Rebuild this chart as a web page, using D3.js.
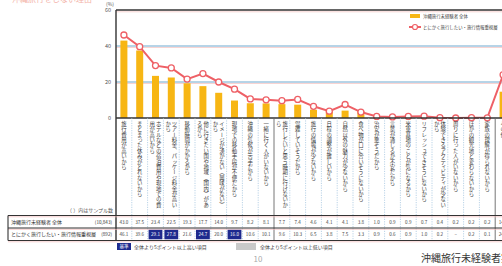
<!DOCTYPE html>
<html><head><meta charset="utf-8">
<script src="https://cdn.jsdelivr.net/npm/d3@7"></script>
<style>
body{margin:0;background:#fff;}
svg text{font-family:"Noto Sans CJK JP","Noto Sans",sans-serif;}
</style></head>
<body><svg id="chart" width="502" height="266"></svg>
<script>
// reasons (columns), left to right
const categories = [
  "旅行費用が高いから",
  "まとまった休みがとれないから",
  "ホテルなどの宿泊費用や現地での費用が高いから",
  "ツアー料金、パッケージ料金が高いから",
  "移動時間がかかるから",
  "他に行きたい国や地域（国内）があるから",
  "イメージが湧かない（興味がない）から",
  "現地での移動手段が不便だから",
  "沖縄の気候が苦手だから",
  "一緒に行く人がいないから",
  "旅行したいと思う時期に行けないから",
  "混雑していそうだから",
  "旅行の情報が少ないから",
  "日程の調整が難しいから",
  "自然以外の魅力が少ないから",
  "食べ物が口に合いそうにないから",
  "治安が悪そうだから",
  "言葉が通じるか不安だから",
  "米軍基地のことが気になるから",
  "リフレッシュできそうにないから",
  "体験できるアクティビティが少ないから",
  "周りに行った人がいないから",
  "ほかの観光地と変わらないから",
  "家族の理解が得られないから",
  "その他"
];
const allValues  = [43.0, 37.5, 23.4, 22.5, 19.3, 17.7, 14.0, 9.7, 8.2, 8.1, 7.7, 7.4, 4.6, 4.1, 4.1, 3.8, 1.0, 0.9, 0.9, 0.7, 0.4, 0.2, 0.2, 0.2, 14.6];
const keenValues = [46.1, 39.6, 29.1, 27.8, 21.6, 24.7, 20.0, 16.0, 10.6, 10.1, 9.6, 10.3, 6.5, 3.8, 7.5, 3.3, 0.9, 0.6, 0.9, 1.0, 0.2, null, 0.2, 0.1, 24.0];
const highIdx = [2, 3, 5, 7];   // cells shaded navy in the table
const seriesNames = ["沖縄旅行未経験者 全体", "とにかく旅行したい・旅行情報重視層"];
const sampleSizes = ["(10,843)", "(892)"];
const yTicks = [0, 20, 40, 60];

const svg = d3.select("#chart");
svg.append("rect").attr("width", 502).attr("height", 266).attr("fill", "#fff");

const colW = 15.8;
const x = d3.scaleBand().domain(categories).range([116, 116 + colW * categories.length]);
const y = d3.scaleLinear().domain([0, 60]).range([118, 10]);
const barW = 7;
const cx = d => x(d) + x.bandwidth() / 2;

// faint title cut at the top
svg.append("text").attr("x", 12).attr("y", 2.2).attr("font-size", 8)
   .attr("fill", "#f3b2a8").text("沖縄旅行をしない理由");

// gridlines
const grid = svg.append("g");
[20, 40].forEach(t => {
  grid.append("line").attr("x1", 116).attr("x2", 502).attr("y1", y(t) + 1.5).attr("y2", y(t) + 1.5)
      .attr("stroke", "#f6c9c6").attr("stroke-width", 0.8);
  grid.append("line").attr("x1", 116).attr("x2", 502).attr("y1", y(t)).attr("y2", y(t))
      .attr("stroke", "#6fa8cf").attr("stroke-width", 1);
});
grid.append("line").attr("x1", 116).attr("x2", 502).attr("y1", y(60) + 1.8).attr("y2", y(60) + 1.8)
    .attr("stroke", "#f6c9c6").attr("stroke-width", 0.8);
grid.append("line").attr("x1", 116).attr("x2", 502).attr("y1", y(60)).attr("y2", y(60))
    .attr("stroke", "#333").attr("stroke-width", 1.6);

// left axis
const leftAxis = d3.axisLeft(y).tickValues(yTicks).tickSize(0).tickPadding(5);
const ax = svg.append("g").attr("transform", "translate(116,0)").call(leftAxis);
ax.select(".domain").remove();
ax.selectAll("text").attr("font-size", 5.5).attr("fill", "#555");
svg.append("text").attr("x", 110).attr("y", 6).attr("font-size", 5).attr("fill", "#555")
   .attr("text-anchor", "middle").text("(%)");

// bars
svg.append("g").selectAll("rect").data(categories).join("rect")
   .attr("x", d => cx(d) - barW / 2)
   .attr("y", (d, i) => y(allValues[i]))
   .attr("width", barW)
   .attr("height", (d, i) => y(0) - y(allValues[i]))
   .attr("fill", "#f7b614");

// line for the keen group
const pts = categories.map((d, i) => [cx(d), y(keenValues[i] == null ? 0 : keenValues[i])]);
svg.append("path").attr("d", d3.line()(pts)).attr("fill", "none")
   .attr("stroke", "#ee6066").attr("stroke-width", 2);
svg.append("g").selectAll("circle").data(pts).join("circle")
   .attr("cx", d => d[0]).attr("cy", d => d[1]).attr("r", 3)
   .attr("fill", "#fff").attr("stroke", "#ee6066").attr("stroke-width", 1.3);

// zero line
svg.append("line").attr("x1", 116).attr("x2", 502).attr("y1", y(0)).attr("y2", y(0))
   .attr("stroke", "#333").attr("stroke-width", 1.4);

// legend (top right)
const lg = svg.append("g");
lg.append("rect").attr("x", 410).attr("y", 14).attr("width", 10).attr("height", 4).attr("fill", "#f7b614");
lg.append("text").attr("x", 423).attr("y", 18).attr("font-size", 4.4).attr("fill", "#444").text(seriesNames[0]);
lg.append("line").attr("x1", 409).attr("x2", 421).attr("y1", 27).attr("y2", 27)
  .attr("stroke", "#ee6066").attr("stroke-width", 2);
lg.append("circle").attr("cx", 415).attr("cy", 27).attr("r", 2.5)
  .attr("fill", "#fff").attr("stroke", "#ee6066").attr("stroke-width", 1.2);
lg.append("text").attr("x", 423).attr("y", 28.6).attr("font-size", 4.4).attr("fill", "#444").text(seriesNames[1]);

// column dividers through labels and table
const tableTop = 215.5, rowH = 12.5;
const tableBottom = tableTop + rowH * 2;
categories.forEach((d, i) => {
  if (i === 0) return;
  const solid = (i === 10 || i === 24);
  svg.append("line").attr("x1", x(d)).attr("x2", x(d)).attr("y1", y(0)).attr("y2", tableBottom)
     .attr("stroke", solid ? "#666" : "#9cc0dc").attr("stroke-width", solid ? 0.9 : 0.7)
     .attr("stroke-dasharray", solid ? null : "1.2,1.2");
});
svg.append("line").attr("x1", 116).attr("x2", 116).attr("y1", y(60)).attr("y2", tableBottom)
   .attr("stroke", "#333").attr("stroke-width", 1.4);

// vertical category labels
const maxChars = 16;
categories.forEach(d => {
  const parts = d.length > maxChars ? [d.slice(0, maxChars), d.slice(maxChars)] : [d];
  parts.forEach((p, k) => {
    const off = parts.length === 1 ? 0 : (k === 0 ? 3.2 : -3.2);
    svg.append("text").attr("x", cx(d) + off).attr("y", 121)
       .attr("writing-mode", "vertical-rl").attr("font-size", 5.4).attr("fill", "#3a3a3a")
       .text(p);
  });
});

// table
svg.append("text").attr("x", 113).attr("y", 212).attr("font-size", 5).attr("fill", "#555")
   .attr("text-anchor", "end").text("（ ）内はサンプル数");
[tableTop, tableTop + rowH, tableBottom].forEach(t => {
  svg.append("line").attr("x1", 8).attr("x2", 502).attr("y1", t + 1.3).attr("y2", t + 1.3)
     .attr("stroke", "#f3bcbc").attr("stroke-width", 0.7);
  svg.append("line").attr("x1", 8).attr("x2", 502).attr("y1", t).attr("y2", t)
     .attr("stroke", "#333").attr("stroke-width", 1.1);
});
svg.append("line").attr("x1", 8).attr("x2", 8).attr("y1", tableTop).attr("y2", tableBottom)
   .attr("stroke", "#333").attr("stroke-width", 1.1);

[allValues, keenValues].forEach((vals, r) => {
  const ry = tableTop + r * rowH;
  svg.append("text").attr("x", 11).attr("y", ry + rowH / 2 + 1.8).attr("font-size", 5)
     .attr("fill", "#333").text(seriesNames[r]);
  svg.append("text").attr("x", 112).attr("y", ry + rowH / 2 + 1.8).attr("font-size", 4.6)
     .attr("fill", "#333").attr("text-anchor", "end").text(sampleSizes[r]);
  categories.forEach((d, i) => {
    const hi = r === 1 && highIdx.includes(i);
    if (hi) {
      svg.append("rect").attr("x", x(d) + 1).attr("y", ry + 1.8).attr("width", x.bandwidth() - 2)
         .attr("height", rowH - 3).attr("fill", "#1e2a8e");
    }
    svg.append("text").attr("x", cx(d)).attr("y", ry + rowH / 2 + 1.8).attr("font-size", 4.6)
       .attr("text-anchor", "middle").attr("fill", hi ? "#fff" : "#444")
       .text(vals[i] == null ? "–" : vals[i].toFixed(1));
  });
});

// shading key
svg.append("rect").attr("x", 117).attr("y", 243).attr("width", 14).attr("height", 7).attr("fill", "#1e2a8e");
svg.append("text").attr("x", 124).attr("y", 248.3).attr("font-size", 4.6).attr("fill", "#fff")
   .attr("text-anchor", "middle").text("基準");
svg.append("text").attr("x", 134).attr("y", 248.5).attr("font-size", 5).attr("fill", "#444")
   .text("全体より5ポイント以上高い項目");
svg.append("rect").attr("x", 236).attr("y", 243).attr("width", 20).attr("height", 7).attr("fill", "#c9c9c9");
svg.append("text").attr("x", 260).attr("y", 248.5).attr("font-size", 5).attr("fill", "#444")
   .text("全体より5ポイント以上低い項目");

// footer
svg.append("text").attr("x", 258).attr("y", 262).attr("font-size", 8).attr("fill", "#aaa")
   .attr("text-anchor", "middle").text("10");
svg.append("text").attr("x", 421).attr("y", 262).attr("font-size", 10).attr("fill", "#333")
   .text("沖縄旅行未経験者実態調査");
</script>
</body></html>
